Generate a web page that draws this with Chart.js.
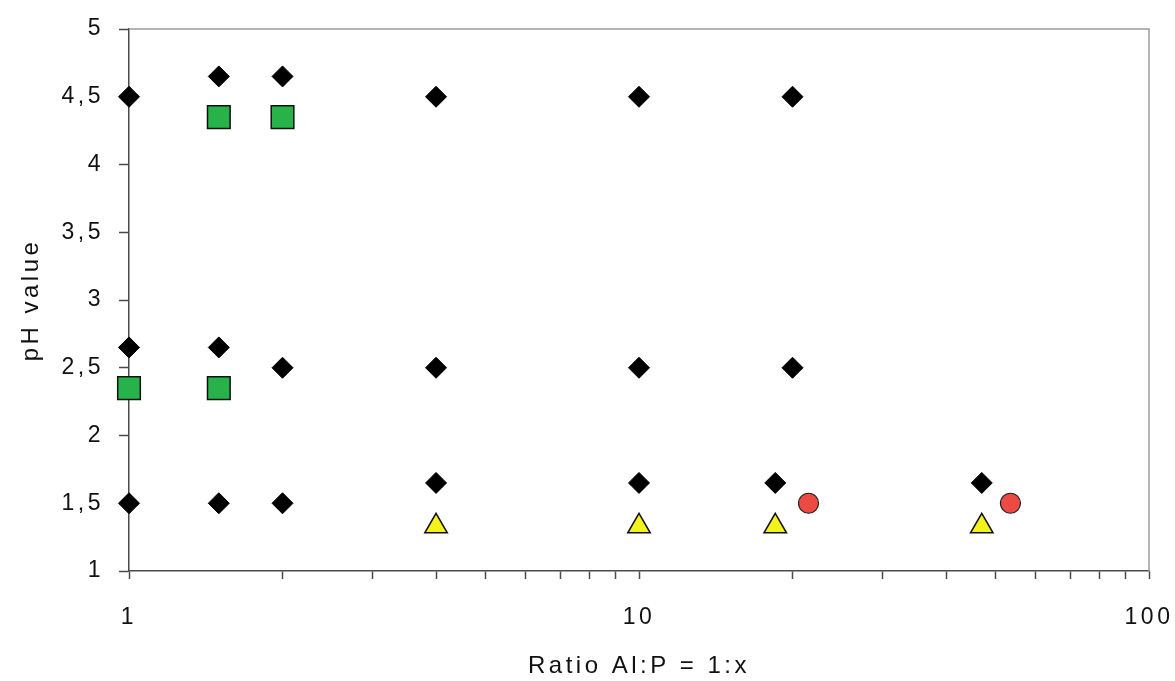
<!DOCTYPE html>
<html>
<head>
<meta charset="utf-8">
<script src="https://cdn.jsdelivr.net/npm/chart.js@4"></script>
<style>
  html, body { margin: 0; padding: 0; background: #fff; }
  #wrap { width: 1175px; height: 681px; }
</style>
</head>
<body>
<div id="wrap"><canvas id="chartPh"></canvas></div>
<script>
// ratio Al:P = 1:x  vs  pH value
const diamondX = [1, 1, 1, 1.5, 1.5, 1.5, 2, 2, 2, 4, 4, 4, 10, 10, 10, 20, 20, 18.5, 47];
const diamondY = [4.5, 2.65, 1.5, 4.65, 2.65, 1.5, 4.65, 2.5, 1.5, 4.5, 2.5, 1.65, 4.5, 2.5, 1.65, 4.5, 2.5, 1.65, 1.65];
const squareX = [1.5, 2, 1, 1.5];
const squareY = [4.35, 4.35, 2.35, 2.35];
const triangleX = [4, 10, 18.5, 47];
const triangleY = [1.33, 1.33, 1.33, 1.33];
const circleX = [21.5, 53.5];
const circleY = [1.5, 1.5];

const xTickValues = [1, 2, 3, 4, 5, 6, 7, 8, 9, 10, 20, 30, 40, 50, 60, 70, 80, 90, 100];
const xTickLabels = [1, 10, 100];

function toPoints(xs, ys) {
    return xs.map((x, i) => ({ x: x, y: ys[i] }));
}

const AXIS_COLOR = '#4a4a4a';
const FONT = '"Liberation Sans", Arial, sans-serif';

// letter-spaced text like the printed figure
const spacing = {
    id: 'spacing',
    beforeUpdate(chart) { chart.ctx.letterSpacing = '3.5px'; },
    beforeDraw(chart) { chart.ctx.letterSpacing = '3.5px'; }
};

// light top and right edge of the plot area
const frame = {
    id: 'frame',
    beforeDatasetsDraw(chart) {
        const { ctx, chartArea: a } = chart;
        ctx.save();
        ctx.strokeStyle = '#9c9c9c';
        ctx.lineWidth = 1.5;
        ctx.beginPath();
        ctx.moveTo(a.left, a.top);
        ctx.lineTo(a.right, a.top);
        ctx.lineTo(a.right, a.bottom);
        ctx.stroke();
        ctx.restore();
    }
};

const data = {
    datasets: [
        {
            label: 'diamond',
            data: toPoints(diamondX, diamondY),
            pointStyle: 'rectRot',
            pointRadius: 10.5,
            backgroundColor: '#000',
            borderColor: '#000',
            borderWidth: 1,
            clip: false
        },
        {
            label: 'square',
            data: toPoints(squareX, squareY),
            pointStyle: 'rect',
            pointRadius: 16,
            backgroundColor: '#27b24a',
            borderColor: '#111',
            borderWidth: 1.5,
            clip: false
        },
        {
            label: 'triangle',
            data: toPoints(triangleX, triangleY),
            pointStyle: 'triangle',
            pointRadius: 13,
            backgroundColor: '#f4f21c',
            borderColor: '#111',
            borderWidth: 1.5,
            clip: false
        },
        {
            label: 'circle',
            data: toPoints(circleX, circleY),
            pointStyle: 'circle',
            pointRadius: 10,
            backgroundColor: '#ee4a44',
            borderColor: '#222',
            borderWidth: 1.2,
            clip: false
        }
    ]
};

const config = {
    type: 'scatter',
    data: data,
    plugins: [spacing, frame],
    options: {
        responsive: true,
        maintainAspectRatio: false,
        animation: false,
        layout: { padding: { top: 29, right: 26, bottom: 0, left: 0 } },
        plugins: {
            legend: { display: false },
            tooltip: { enabled: false }
        },
        scales: {
            x: {
                type: 'logarithmic',
                min: 1,
                max: 100,
                afterBuildTicks(scale) {
                    scale.ticks = xTickValues.map(v => ({ value: v }));
                },
                afterFit(scale) {
                    scale.height = 110;
                    scale.paddingLeft = 0;
                    scale.paddingRight = 0;
                },
                grid: {
                    drawOnChartArea: false,
                    tickLength: 8,
                    tickColor: AXIS_COLOR,
                    tickWidth: 1.5
                },
                border: { color: AXIS_COLOR, width: 1.5 },
                ticks: {
                    autoSkip: false,
                    maxRotation: 0,
                    padding: 25,
                    color: '#111',
                    font: { family: FONT, size: 23 },
                    callback: v => xTickLabels.includes(v) ? String(v) : ''
                },
                title: {
                    display: true,
                    text: 'Ratio Al:P = 1:x',
                    color: '#111',
                    font: { family: FONT, size: 24 },
                    padding: { top: 5, bottom: 0 }
                }
            },
            y: {
                min: 1,
                max: 5,
                afterFit(scale) {
                    scale.width = 129;
                    scale.paddingTop = 0;
                    scale.paddingBottom = 0;
                },
                grid: {
                    drawOnChartArea: false,
                    tickLength: 10,
                    tickColor: AXIS_COLOR,
                    tickWidth: 1.5
                },
                border: { color: AXIS_COLOR, width: 1.5 },
                ticks: {
                    stepSize: 0.5,
                    padding: 15,
                    color: '#111',
                    font: { family: FONT, size: 23 },
                    callback: v => String(v).replace('.', ',')
                },
                title: {
                    display: true,
                    text: 'pH value',
                    color: '#111',
                    font: { family: FONT, size: 24 },
                    padding: { top: 17, bottom: 0 }
                }
            }
        }
    }
};

new Chart(document.getElementById('chartPh'), config);
</script>
</body>
</html>
